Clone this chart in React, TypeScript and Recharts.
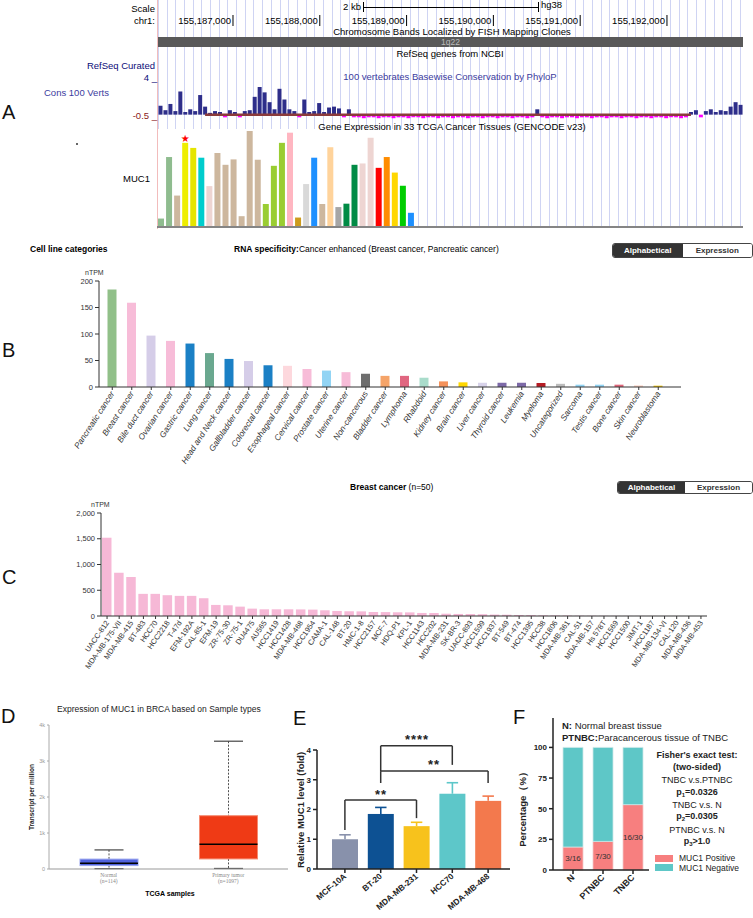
import React from 'react';
import {
  BarChart, Bar, XAxis, YAxis, Cell, ComposedChart,
  ReferenceArea, ReferenceLine, LabelList,
} from 'recharts';

const FONT = '"Liberation Sans", Arial, Helvetica, sans-serif';

// ---- A: genome browser, MUC1 locus (hg38) ----
const viewStart = 155186136;
const viewEnd = 155192876;
const coordTicks = [155187000, 155188000, 155189000, 155190000, 155191000, 155192000];
const exonStarts = [155186136, 155187219, 155187449, 155187714, 155188002, 155188164, 155189247, 155190387, 155190986, 155191551, 155192795];
const exonEnds = [155186217, 155187380, 155187576, 155187864, 155188071, 155188935, 155190203, 155190652, 155191309, 155192311, 155192876];

// PhyloP, one value per ~5px bin across the window
const phyloP = [
  1.0, 0.5, 1.2, 0.4, 2.6, 0.3, 0.6, 0.4, 2.2, 0.9,
  0.2, 0.4, 0.3, -0.3, 0.5, 0.3, -0.3, 0.4, 0.5, 2.0,
  3.1, 2.5, 1.4, 0.6, 2.9, 1.7, 0.6, 0.4, -0.3, 1.7,
  0.3, 0.4, 1.3, 0.3, 0.8, 0.9, 0.7, -0.3, 0.6, -0.3,
  -0.3, -0.4, -0.3, -0.3, -0.4, -0.3, -0.3, -0.4, -0.3, -0.3,
  -0.4, -0.3, -0.3, -0.4, -0.3, -0.3, -0.4, -0.3, -0.3, -0.4,
  -0.3, -0.3, -0.4, -0.3, -0.3, -0.4, -0.3, -0.3, -0.4, -0.3,
  -0.3, -0.4, -0.3, -0.3, -0.4, -0.3, 0.6, -0.3, -0.4, -0.3,
  -0.3, -0.4, -0.3, -0.3, -0.4, -0.3, -0.3, -0.4, -0.3, -0.3,
  -0.4, -0.3, -0.3, -0.4, -0.3, -0.3, -0.4, -0.3, -0.3, -0.4,
  -0.3, -0.3, -0.4, -0.3, -0.3, -0.4, -0.3, 0.3, 0.5, -0.3,
  0.4, 0.6, 0.3, 0.5, 0.4, 0.9, 1.4, 1.1,
];

const tcgaTissues = [
  'ACC', 'BLCA', 'LGG', 'BRCA', 'CESC', 'CHOL', 'COAD', 'DLBC', 'ESCA', 'GBM',
  'HNSC', 'KICH', 'KIRC', 'KIRP', 'LAML', 'LIHC', 'LUAD', 'LUSC', 'MESO', 'OV',
  'PAAD', 'PCPG', 'PRAD', 'READ', 'SARC', 'SKCM', 'STAD', 'TGCT', 'THCA', 'THYM',
  'UCEC', 'UVM',
];
const tcgaTpm = [
  2.5, 20.7, 9.3, 24.9, 23.4, 20.5, 12.1, 21.9, 18.4, 20.0,
  3.2, 28.4, 19.9, 6.8, 18.1, 24.9, 27.9, 2.8, 12.7, 20.5,
  6.8, 23.6, 5.9, 6.9, 18.4, 18.8, 26.4, 17.5, 20.7, 16.1,
  12.2, 4.2,
];
const tcgaColors = [
  '#8fbc8f', '#8fbc8f', '#cdb79e', '#eeee00', '#e5e500', '#00cdcd', '#eed5d2', '#cdb79e', '#cdb79e', '#cdb79e',
  '#cdb79e', '#cdb79e', '#cdb79e', '#9acd32', '#9acd32', '#9acd32', '#ffb6c1', '#cd9b1d', '#d9d9d9', '#1e90ff',
  '#cdb79e', '#ffd39b', '#a6a6a6', '#008b45', '#008b45', '#eed5d2', '#eed5d2', '#ff0000', '#ff8c00', '#ffd700',
  '#00cd00', '#1e90ff',
];

// ---- B: cell line categories ----
const cellLines = [
  'Pancreatic cancer', 'Breast cancer', 'Bile duct cancer', 'Ovarian cancer', 'Gastric cancer', 'Lung cancer',
  'Head and Neck cancer', 'Gallbladder cancer', 'Colorectal cancer', 'Esophageal cancer', 'Cervical cancer',
  'Prostate cancer', 'Uterine cancer', 'Non-cancerous', 'Bladder cancer', 'Lymphoma', 'Rhabdoid', 'Kidney cancer',
  'Brain cancer', 'Liver cancer', 'Thyroid cancer', 'Leukemia', 'Myeloma', 'Uncategorized', 'Sarcoma',
  'Testis cancer', 'Bone cancer', 'Skin cancer', 'Neuroblastoma',
];
const cellLineTpm = [184, 159, 97, 87, 82, 64, 53, 49, 41, 40, 34, 31, 28, 25, 21, 21, 17.5, 10.6, 8.8, 8, 8, 8, 7.5, 6, 4.4, 4.4, 4.4, 3, 2.5];
const cellLineColors = [
  '#91c089', '#f7bcd8', '#d5cde8', '#f7bcd8', '#1b80c5', '#6aa88f', '#1b80c5', '#d5cde8', '#1b80c5', '#fdd8dd',
  '#f7bcd8', '#92d4f4', '#f7bcd8', '#6e6e6e', '#f5a469', '#e06680', '#a9dccb', '#f5925b', '#ffd700', '#d8d3ea',
  '#7d6aa8', '#7d6aa8', '#b51c24', '#bdbdbd', '#92d4f4', '#92d4f4', '#e0667a', '#fbd3c6', '#f2c500',
];

// ---- C: breast cancer cell lines ----
const breastLines = [
  'UACC-812', 'MDA-MB-175-VII', 'MDA-MB-415', 'BT-483', 'HCC70', 'HCC2218', 'T-47d', 'EFM-192A', 'CAL-85-1', 'EFM-19',
  'ZR-75-30', 'ZR-75-1', 'DU4475', 'AU565', 'HCC1419', 'HCC1428', 'MDA-MB-468', 'HCC1954', 'CAMA-1', 'CAL-148',
  'BT-20', 'HMC-1-8', 'HCC2157', 'MCF-7', 'HDQ-P1', 'KPL-1', 'HCC1143', 'HCC202', 'MDA-MB-231', 'SK-BR-3',
  'UACC-893', 'HCC1599', 'HCC1937', 'BT-549', 'BT-474', 'HCC1395', 'HCC38', 'HCC1806', 'MDA-MB-361', 'CAL-51',
  'MDA-MB-157', 'Hs 578T', 'HCC1569', 'HCC1500', 'JIMT-1', 'HCC1187', 'MDA-MB-134-VI', 'CAL-120', 'MDA-MB-436', 'MDA-MB-453',
];
const breastTpm = [
  1520, 840, 756, 430, 430, 404, 391, 391, 345, 215,
  208, 182, 143, 130, 130, 130, 128, 124, 111, 98,
  92, 90, 78, 76, 72, 70, 59, 58, 45, 40,
  38, 35, 28, 25, 20, 18, 12, 10, 8, 6,
  5, 4, 3, 2, 2, 1.5, 1, 1, 0.5, 0.5,
];

// ---- D: TCGA BRCA box plot ----
const boxGroups = ['Normal', 'Primary tumor'];
const boxN = ['(n=114)', '(n=1097)'];
const boxMin = [10, 15];
const boxQ1 = [95, 280];
const boxMedian = [160, 690];
const boxQ3 = [275, 1480];
const boxMax = [530, 3550];
const boxFill = ['#5063de', '#ef3a15'];
const boxEdge = ['#9aa5ee', '#f58a70'];

// ---- E: qPCR ----
const eLines = ['MCF-10A', 'BT-20', 'MDA-MB-231', 'HCC70', 'MDA-MB-468'];
const eMean = [1.0, 1.85, 1.44, 2.53, 2.29];
const eSd = [0.15, 0.22, 0.13, 0.37, 0.16];
const eColors = ['#8891ab', '#0d5193', '#f7c21c', '#5dc7c9', '#f3794d'];

// ---- F: IHC ----
const fGroups = ['N', 'PTNBC', 'TNBC'];
const fPositive = [18.75, 23.33, 53.33];
const fNegative = [81.25, 76.67, 46.67];
const fFraction = ['3/16', '7/30', '16/30'];

function Txt({ x, y, children, anchor = 'start', size = 9, color = '#000', weight = 'normal', style = {} }: any) {
  const tx = anchor === 'middle' ? '-50%' : anchor === 'end' ? '-100%' : '0';
  return (
    <div style={{ position: 'absolute', left: x, top: y, transform: `translate(${tx}, -50%)`, fontSize: size, color, fontWeight: weight, whiteSpace: 'nowrap', lineHeight: 1, ...style }}>
      {children}
    </div>
  );
}

function VTxt({ x, y, children, size = 9, weight = 'bold', color = '#222' }: any) {
  return (
    <div style={{ position: 'absolute', left: x, top: y, transform: 'translate(-50%, -50%) rotate(-90deg)', fontSize: size, fontWeight: weight, color, whiteSpace: 'nowrap', lineHeight: 1 }}>
      {children}
    </div>
  );
}

function Letter({ x, y, children }: any) {
  return <Txt x={x} y={y} size={20} color="#111">{children}</Txt>;
}

function Toggle({ x, y, w, h }: any) {
  const half = { flex: 1, display: 'flex', alignItems: 'center', justifyContent: 'center' };
  return (
    <div style={{ position: 'absolute', left: x, top: y, width: w, height: h, display: 'flex', border: '1px solid #444', borderRadius: 3, overflow: 'hidden', boxSizing: 'border-box', fontSize: 8, fontWeight: 'bold' }}>
      <div style={{ ...half, background: '#333', color: '#fff' }}>Alphabetical</div>
      <div style={{ ...half, background: '#fff', color: '#333' }}>Expression</div>
    </div>
  );
}

function RotTick(p: any) {
  const { x, y, payload, angle, size, italic, bold, color = '#333' } = p;
  return (
    <g transform={`translate(${x},${y})`}>
      <text x={0} y={0} dy={3} textAnchor="end" fontSize={size} fontFamily={FONT}
        fontStyle={italic ? 'italic' : 'normal'} fontWeight={bold ? 'bold' : 'normal'} fill={color}
        transform={`rotate(${angle})`}>
        {payload.value}
      </text>
    </g>
  );
}

function CoordTick(p: any) {
  return (
    <g>
      <line x1={p.x} x2={p.x} y1={15} y2={26} stroke="#000" strokeWidth={1} />
      <text x={p.x - 2} y={24} textAnchor="end" fontSize={9.5} fontFamily={FONT} fill="#000">
        {Number(p.payload.value).toLocaleString('en-US')}
      </text>
    </g>
  );
}

function BoxShape(p: any) {
  const { x, y, width, height, payload } = p;
  const lo = payload.range[0];
  const hi = payload.range[1];
  const py = (v: number) => y + (height * (hi - v)) / (hi - lo);
  const cx = x + width / 2;
  const cap = width / 4;
  return (
    <g>
      <line x1={cx} x2={cx} y1={py(hi)} y2={py(payload.q3)} stroke="#222" strokeDasharray="2 1.5" strokeWidth={0.8} />
      <line x1={cx} x2={cx} y1={py(payload.q1)} y2={py(lo)} stroke="#222" strokeDasharray="2 1.5" strokeWidth={0.8} />
      <line x1={cx - cap} x2={cx + cap} y1={py(hi)} y2={py(hi)} stroke="#444" strokeWidth={1.2} />
      <line x1={cx - cap} x2={cx + cap} y1={py(lo)} y2={py(lo)} stroke="#444" strokeWidth={1.2} />
      <rect x={x} y={py(payload.q3)} width={width} height={py(payload.q1) - py(payload.q3)} fill={payload.fill} stroke={payload.edge} strokeWidth={1} />
      <line x1={x} x2={x + width} y1={py(payload.median)} y2={py(payload.median)} stroke="#000" strokeWidth={1.5} />
    </g>
  );
}

function ErrShape(p: any) {
  const { x, y, width, height, payload } = p;
  const k = height / payload.mean;
  const top = y - payload.sd * k;
  const cx = x + width / 2;
  return (
    <g>
      <rect x={x} y={y} width={width} height={height} fill={payload.color} />
      <line x1={cx} x2={cx} y1={y} y2={top} stroke={payload.color} strokeWidth={1.6} />
      <line x1={cx - width * 0.22} x2={cx + width * 0.22} y1={top} y2={top} stroke={payload.color} strokeWidth={1.6} />
    </g>
  );
}

function DTick(p: any) {
  const i = boxGroups.indexOf(p.payload.value);
  return (
    <g>
      <text x={p.x} y={p.y + 8} textAnchor="middle" fontSize={5.5} fontFamily="'Liberation Serif', serif" fill="#888">{p.payload.value}</text>
      <text x={p.x} y={p.y + 14} textAnchor="middle" fontSize={5.5} fontFamily="'Liberation Serif', serif" fill="#888">{boxN[i]}</text>
    </g>
  );
}

export default function App() {
  const exonRows = exonStarts.map((s, i) => ({ start: s, end: exonEnds[i] }));
  const consData = phyloP.map((v, i) => ({ bin: i, v }));
  const tcgaData = tcgaTissues.map((t, i) => ({ tissue: t, tpm: tcgaTpm[i], star: t === 'BRCA' ? '★' : '' }));
  const cellData = cellLines.map((n, i) => ({ name: n, tpm: cellLineTpm[i] }));
  const breastData = breastLines.map((n, i) => ({ name: n, tpm: breastTpm[i] }));
  const boxData = boxGroups.map((g, i) => ({
    group: g, range: [boxMin[i], boxMax[i]], q1: boxQ1[i], median: boxMedian[i], q3: boxQ3[i], fill: boxFill[i], edge: boxEdge[i],
  }));
  const eData = eLines.map((l, i) => ({ line: l, mean: eMean[i], sd: eSd[i], color: eColors[i] }));
  const fData = fGroups.map((g, i) => ({ g, pos: fPositive[i], neg: fNegative[i], frac: fFraction[i] }));

  const bracket = { stroke: '#333', strokeWidth: 1.5, ifOverflow: 'visible' as const };

  return (
    <div style={{ position: 'absolute', left: 0, top: 0, width: 753, height: 918, background: '#fff', overflow: 'hidden', fontFamily: FONT, color: '#000' }}>
      {/* ===== A ===== */}
      <div style={{ position: 'absolute', left: 158, top: 0, width: 585, height: 227, backgroundImage: 'repeating-linear-gradient(90deg, #cfd4f3 0px, #cfd4f3 1px, transparent 1px, transparent 8.68px)' }} />
      <div style={{ position: 'absolute', left: 157, top: 129, width: 261, height: 98, background: '#fff' }} />
      <div style={{ position: 'absolute', left: 157, top: 0, width: 1, height: 229, background: '#f2bcbc' }} />
      <Letter x={2} y={112}>A</Letter>
      <div style={{ position: 'absolute', left: 76, top: 143, width: 2, height: 2, background: '#333', borderRadius: 1 }} />
      <Txt x={155} y={9} anchor="end" size={9.5}>Scale</Txt>
      <Txt x={155} y={21} anchor="end" size={9.5}>chr1:</Txt>
      <Txt x={361} y={7} anchor="end" size={9.5}>2 kb</Txt>
      <div style={{ position: 'absolute', left: 363, top: 2, width: 174, height: 10, borderLeft: '1px solid #000', borderRight: '1px solid #000' }}>
        <div style={{ position: 'absolute', left: 0, right: 0, top: 5, height: 1, background: '#000' }} />
      </div>
      <Txt x={541} y={5} size={9.5}>hg38</Txt>
      <Txt x={452} y={32} anchor="middle" size={9.5}>Chromosome Bands Localized by FISH Mapping Clones</Txt>
      <div style={{ position: 'absolute', left: 158, top: 37, width: 585, height: 10, background: '#595959', color: '#bbb', fontSize: 8.5, textAlign: 'center', lineHeight: '10px' }}>1q22</div>
      <Txt x={450} y={54} anchor="middle" size={9.5}>RefSeq genes from NCBI</Txt>
      <Txt x={155} y={66} anchor="end" size={9.5} color="#0c0c78">RefSeq Curated</Txt>
      <Txt x={157} y={78} anchor="end" size={9.5} color="#0c0c78">4 _</Txt>
      <Txt x={450} y={77} anchor="middle" size={9.5} color="#3b3b9e">100 vertebrates Basewise Conservation by PhyloP</Txt>
      <Txt x={44} y={93} size={9.5} color="#3b3b9e">Cons 100 Verts</Txt>
      <Txt x={157} y={116} anchor="end" size={9.5} color="#8b1a1a">-0.5 _</Txt>
      <Txt x={452} y={127} anchor="middle" size={9.5}>Gene Expression in 33 TCGA Cancer Tissues (GENCODE v23)</Txt>
      <Txt x={150} y={179} anchor="end" size={9.5}>MUC1</Txt>

      <div style={{ position: 'absolute', left: 158, top: 0 }}>
        <ComposedChart width={585} height={71} data={exonRows} margin={{ top: 0, right: 0, left: 0, bottom: 0 }}>
          <XAxis dataKey="start" type="number" orientation="top" domain={[viewStart, viewEnd]} allowDataOverflow
            ticks={coordTicks} height={60} axisLine={false} tickLine={false} tick={CoordTick} />
          <YAxis hide domain={[0, 1]} />
          <ReferenceLine segment={[{ x: exonStarts[0], y: 0.5 }, { x: exonEnds[exonEnds.length - 1], y: 0.5 }]} stroke="#0c0c73" strokeWidth={1} />
          {exonRows.map((e) => (
            <ReferenceArea key={e.start} x1={e.start} x2={e.end} y1={0} y2={1} fill="#0c0c73" fillOpacity={1} stroke="none" ifOverflow="visible" />
          ))}
        </ComposedChart>
      </div>

      <div style={{ position: 'absolute', left: 158, top: 79 }}>
        <BarChart width={585} height={41} data={consData} margin={{ top: 0, right: 0, left: 0, bottom: 0 }} barCategoryGap={0.5}>
          <XAxis dataKey="bin" hide />
          <YAxis hide domain={[-0.6, 4]} />
          <ReferenceLine segment={[{ x: 9, y: 0 }, { x: 107, y: 0 }]} stroke="#8b3b3b" strokeWidth={2.5} />
          <Bar dataKey="v" isAnimationActive={false}>
            {consData.map((d) => <Cell key={d.bin} fill={d.v >= 0 ? '#2e2e8a' : '#ff00ff'} />)}
          </Bar>
        </BarChart>
      </div>

      <div style={{ position: 'absolute', left: 157, top: 131 }}>
        <BarChart width={258} height={96} data={tcgaData} margin={{ top: 0, right: 0, left: 0, bottom: 0 }}>
          <XAxis dataKey="tissue" hide />
          <YAxis hide domain={[0, 28.4]} />
          <Bar dataKey="tpm" barSize={6} isAnimationActive={false}>
            {tcgaData.map((d, i) => <Cell key={d.tissue} fill={tcgaColors[i]} />)}
            <LabelList dataKey="star" position="top" offset={1} fill="#ff0000" fontSize={10} fontFamily="DejaVu Sans" />
          </Bar>
        </BarChart>
      </div>
      <div style={{ position: 'absolute', left: 157, top: 226, width: 586, height: 2, background: '#858585' }} />

      {/* ===== B ===== */}
      <Letter x={2} y={350}>B</Letter>
      <Txt x={30} y={249} size={8.5} weight="bold">Cell line categories</Txt>
      <Txt x={234} y={249} size={8.5}><b>RNA specificity:</b>Cancer enhanced (Breast cancer, Pancreatic cancer)</Txt>
      <Toggle x={612} y={243} w={141} h={15} />
      <Txt x={85} y={272} size={7} color="#333">nTPM</Txt>
      <div style={{ position: 'absolute', left: 0, top: 265 }}>
        <BarChart width={753} height={205} data={cellData} margin={{ top: 16, right: 72, left: 0, bottom: 0 }}>
          <XAxis dataKey="name" interval={0} height={83} padding={{ left: 3.5, right: 13 }} stroke="#333" tickSize={3}
            tick={(p: any) => <RotTick {...p} angle={-57} size={8.3} italic />} />
          <YAxis width={99} domain={[0, 200]} ticks={[0, 50, 100, 150, 200]} stroke="#333" tickSize={4}
            tick={{ fontSize: 7.5, fill: '#333', fontFamily: FONT }} />
          <Bar dataKey="tpm" barSize={9} isAnimationActive={false}>
            {cellData.map((d, i) => <Cell key={d.name} fill={cellLineColors[i]} />)}
          </Bar>
        </BarChart>
      </div>

      {/* ===== C ===== */}
      <Letter x={2} y={577}>C</Letter>
      <Txt x={350} y={487} size={8.5}><b>Breast cancer</b> (n=50)</Txt>
      <Toggle x={617} y={481} w={136} h={13} />
      <Txt x={91} y={504} size={7} color="#333">nTPM</Txt>
      <div style={{ position: 'absolute', left: 0, top: 500 }}>
        <BarChart width={753} height={200} data={breastData} margin={{ top: 13, right: 46, left: 0, bottom: 0 }}>
          <XAxis dataKey="name" interval={0} height={84} stroke="#333" tickSize={3}
            tick={(p: any) => <RotTick {...p} angle={-55} size={7.5} />} />
          <YAxis width={101} domain={[0, 2000]} ticks={[0, 500, 1000, 1500, 2000]} stroke="#333" tickSize={4}
            tickFormatter={(v: number) => v.toLocaleString('en-US')}
            tick={{ fontSize: 7.5, fill: '#333', fontFamily: FONT }} />
          <Bar dataKey="tpm" barSize={9.5} fill="#f6b8d6" isAnimationActive={false} />
        </BarChart>
      </div>

      {/* ===== D ===== */}
      <Letter x={1} y={716}>D</Letter>
      <Txt x={57} y={709} size={8.5} color="#222">Expression of MUC1 in BRCA based on Sample types</Txt>
      <VTxt x={32} y={797} size={6.5}>Transcript per million</VTxt>
      <Txt x={170} y={893} size={7} weight="bold" anchor="middle">TCGA samples</Txt>
      <div style={{ position: 'absolute', left: 0, top: 715 }}>
        <ComposedChart width={300} height={200} data={boxData} margin={{ top: 10, right: 12, left: 0, bottom: 0 }}>
          <XAxis dataKey="group" height={46} stroke="#999" tickLine={false} tickSize={0} tickMargin={0} interval={0} tick={DTick} />
          <YAxis width={49} domain={[0, 4000]} ticks={[0, 1000, 2000, 3000, 4000]} stroke="#aaa" tickSize={2}
            tickFormatter={(v: number) => (v === 0 ? '0' : `${v / 1000}k`)}
            tick={{ fontSize: 5.5, fill: '#999', fontFamily: FONT }} />
          <Bar dataKey="range" barSize={58} shape={BoxShape} isAnimationActive={false} />
        </ComposedChart>
      </div>

      {/* ===== E ===== */}
      <Letter x={293} y={718}>E</Letter>
      <VTxt x={301} y={810} size={9.5}>Relative MUC1 level (fold)</VTxt>
      <div style={{ position: 'absolute', left: 290, top: 740 }}>
        <BarChart width={230} height={175} data={eData} margin={{ top: 10, right: 10, left: 0, bottom: 0 }}>
          <XAxis dataKey="line" interval={0} height={46} padding={{ left: 10, right: 4 }} stroke="#222" strokeWidth={1.5} tickSize={4}
            tick={(p: any) => <RotTick {...p} angle={-40} size={8.3} bold color="#222" />} />
          <YAxis width={27} domain={[0, 4]} ticks={[0, 1, 2, 3, 4]} stroke="#222" strokeWidth={1.5} tickSize={4}
            tick={{ fontSize: 8, fontWeight: 'bold', fill: '#222', fontFamily: FONT }} />
          <Bar dataKey="mean" barSize={26} shape={ErrShape} isAnimationActive={false} />
          <ReferenceLine segment={[{ x: 'BT-20', y: 4.14 }, { x: 'HCC70', y: 4.14 }]} {...bracket} />
          <ReferenceLine segment={[{ x: 'BT-20', y: 4.14 }, { x: 'BT-20', y: 3.29 }]} {...bracket} />
          <ReferenceLine segment={[{ x: 'HCC70', y: 4.14 }, { x: 'HCC70', y: 3.5 }]} {...bracket} />
          <ReferenceLine segment={[{ x: 'BT-20', y: 3.29 }, { x: 'MDA-MB-468', y: 3.29 }]} {...bracket} />
          <ReferenceLine segment={[{ x: 'BT-20', y: 3.29 }, { x: 'BT-20', y: 2.89 }]} {...bracket} />
          <ReferenceLine segment={[{ x: 'MDA-MB-468', y: 3.29 }, { x: 'MDA-MB-468', y: 2.89 }]} {...bracket} />
          <ReferenceLine segment={[{ x: 'MCF-10A', y: 2.32 }, { x: 'MDA-MB-231', y: 2.32 }]} {...bracket} />
          <ReferenceLine segment={[{ x: 'MCF-10A', y: 2.32 }, { x: 'MCF-10A', y: 1.31 }]} {...bracket} />
          <ReferenceLine segment={[{ x: 'MDA-MB-231', y: 2.32 }, { x: 'MDA-MB-231', y: 1.71 }]} {...bracket} />
        </BarChart>
      </div>
      <Txt x={417} y={739} size={13} weight="bold" anchor="middle" color="#222" style={{ letterSpacing: 1 }}>****</Txt>
      <Txt x={434} y={764} size={13} weight="bold" anchor="middle" color="#222" style={{ letterSpacing: 1 }}>**</Txt>
      <Txt x={381} y={794} size={13} weight="bold" anchor="middle" color="#222" style={{ letterSpacing: 1 }}>**</Txt>

      {/* ===== F ===== */}
      <Letter x={513} y={717}>F</Letter>
      <VTxt x={523} y={807} size={9.5}>Percentage（%）</VTxt>
      <Txt x={562} y={726} size={9.5} color="#222"><b>N:</b> Normal breast tissue</Txt>
      <Txt x={562} y={738} size={9.5} color="#222"><b>PTNBC:</b>Paracancerous tissue of TNBC</Txt>
      <Txt x={697} y={755} size={9} weight="bold" anchor="middle" color="#222">Fisher's exact test:</Txt>
      <Txt x={697} y={767} size={9} weight="bold" anchor="middle" color="#222">(two-sided)</Txt>
      <Txt x={697} y={780} size={9} anchor="middle" color="#222">TNBC v.s.PTNBC</Txt>
      <Txt x={697} y={793} size={9} weight="bold" anchor="middle" color="#222">p<sub style={{ fontSize: 6 }}>1</sub>=0.0326</Txt>
      <Txt x={697} y={805} size={9} anchor="middle" color="#222">TNBC v.s. N</Txt>
      <Txt x={697} y={817} size={9} weight="bold" anchor="middle" color="#222">p<sub style={{ fontSize: 6 }}>2</sub>=0.0305</Txt>
      <Txt x={697} y={830} size={9} anchor="middle" color="#222">PTNBC v.s. N</Txt>
      <Txt x={697} y={842} size={9} weight="bold" anchor="middle" color="#222">p<sub style={{ fontSize: 6 }}>3</sub>&gt;1.0</Txt>
      <div style={{ position: 'absolute', left: 655, top: 855, width: 18, height: 7, background: '#f77f7f' }} />
      <div style={{ position: 'absolute', left: 655, top: 864, width: 18, height: 7, background: '#5ec7c7' }} />
      <Txt x={679} y={858} size={8.5} color="#222">MUC1 Positive</Txt>
      <Txt x={679} y={868} size={8.5} color="#222">MUC1 Negative</Txt>
      <div style={{ position: 'absolute', left: 520, top: 715 }}>
        <BarChart width={140} height={200} data={fData} margin={{ top: 3, right: 11, left: 0, bottom: 0 }}>
          <XAxis dataKey="g" interval={0} height={45} padding={{ left: 5, right: 1 }} stroke="#222" strokeWidth={1.5} tickSize={4}
            tick={(p: any) => <RotTick {...p} angle={-45} size={9} bold color="#222" />} />
          <YAxis width={33} domain={[0, 124]} ticks={[0, 25, 50, 75, 100]} stroke="#222" strokeWidth={1.5} tickSize={4}
            tick={{ fontSize: 8, fontWeight: 'bold', fill: '#222', fontFamily: FONT }} />
          <Bar dataKey="pos" stackId="a" barSize={20} fill="#f77f7f" stroke="#f3c9c9" strokeWidth={0.8} isAnimationActive={false}>
            <LabelList dataKey="frac" position="center" fill="#333" fontSize={8} fontFamily={FONT} />
          </Bar>
          <Bar dataKey="neg" stackId="a" barSize={20} fill="#5ec7c7" stroke="#cde8e8" strokeWidth={0.8} isAnimationActive={false} />
        </BarChart>
      </div>
    </div>
  );
}
